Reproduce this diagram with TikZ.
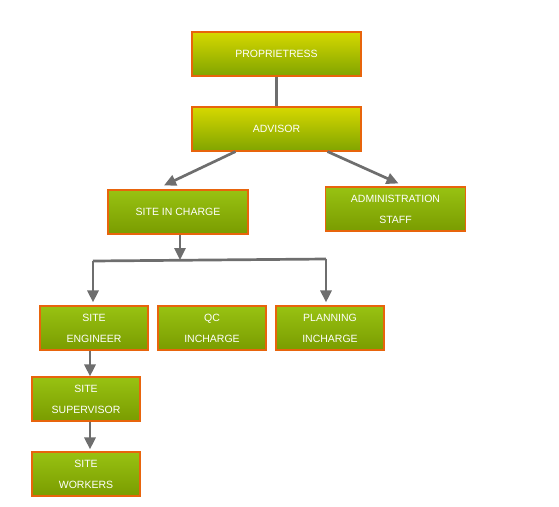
\documentclass[tikz,border=0pt]{standalone}
\usepackage{fontspec}
\setmainfont{Liberation Sans}
\usetikzlibrary{arrows.meta, positioning}
\definecolor{boxedge}{HTML}{E8640C}
\definecolor{headtop}{HTML}{D6D800}
\definecolor{headbot}{HTML}{80A400}
\definecolor{unittop}{HTML}{98C212}
\definecolor{unitbot}{HTML}{7A9C00}
\definecolor{wire}{HTML}{6E6E6E}
\tikzset{%
   % common look of all boxes
   box/.style={
      draw=boxedge,
      line width=1.1pt,
      inner sep=0pt,
      minimum height=44pt,
      align=center,
      text=white,
      font=\fontsize{10.5}{21}\selectfont
   },
   headbox/.style={
      box,
      minimum width=169pt,
      top color=headtop,
      bottom color=headbot
   },
   unitbox/.style={
      box,
      top color=unittop,
      bottom color=unitbot
   },
   wide/.style={unitbox, minimum width=140pt},
   small/.style={unitbox, minimum width=108pt},
   link/.style={
      draw=wire,
      line width=2.7pt
   },
   arr/.style={
      link,
      -{Triangle[length=12pt,width=11pt]}
   }
}

\begin{document}
\begin{tikzpicture}[x=1pt, y=1pt]
\useasboundingbox (0,0) rectangle (559,-506);
\node[headbox] (prop) at (276.5,-54) {PROPRIETRESS};
\node[headbox] (adv) at (276.5,-129) {ADVISOR};
\node[wide] (sic) at (178,-212) {SITE IN CHARGE};
\node[wide] (admin) at (395.5,-209) {ADMINISTRATION\\STAFF};
\node[small] (eng) at (94,-328) {SITE\\ENGINEER};
\node[small] (qc) at (212,-328) {QC\\INCHARGE};
\node[small] (plan) at (330,-328) {PLANNING\\INCHARGE};
\node[small] (sup) at (86,-399) {SITE\\SUPERVISOR};
\node[small] (work) at (86,-474) {SITE\\WORKERS};
% branching points under site in charge
\coordinate (hub) at (180,-260);
\coordinate (bl) at (93,-261);
\coordinate (br) at (326,-259);
\path[link] (prop) -- (adv);
\path[arr] ([xshift=-41pt]adv.south) -- ([xshift=-14pt,yshift=4pt]sic.north);
\path[arr] ([xshift=51pt]adv.south) -- ([xshift=3pt,yshift=3pt]admin.north);
\path[arr] (sic.south -| hub) -- (hub);
\path[link] (bl) -- (br);
\path[arr, shorten >=3pt] (bl) -- (bl |- eng.north);
\path[arr, shorten >=3pt] (br) -- (br |- plan.north);
\path[arr] ([xshift=-4pt]eng.south) -- ([xshift=4pt]sup.north);
\path[arr, shorten >=2pt] ([xshift=4pt]sup.south) -- ([xshift=4pt]work.north);
\end{tikzpicture}
\end{document}
